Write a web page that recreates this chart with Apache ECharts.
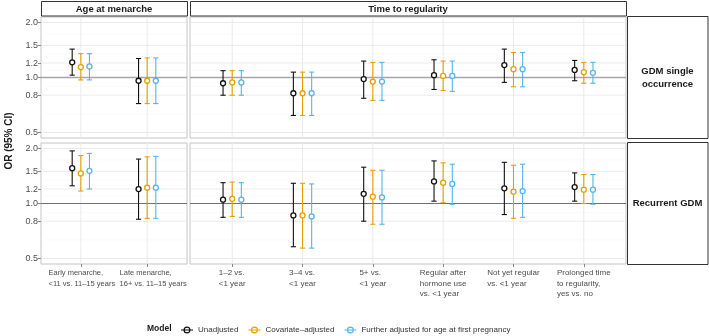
<!DOCTYPE html>
<html>
<head>
<meta charset="utf-8">
<script src="https://cdn.jsdelivr.net/npm/echarts@6/dist/echarts.min.js"></script>
<style>
  html, body { margin: 0; padding: 0; background: #fff; }
  #chart { width: 709px; height: 336px; }
</style>
</head>
<body>
<div id="chart"></div>
<script>
// categories per facet
const menarcheCats = ['Early menarche,\n<11 vs. 11–15 years', 'Late menarche,\n16+ vs. 11–15 years']
const regularityCats = [
  '1–2 vs.\n<1 year',
  '3–4 vs.\n<1 year',
  '5+ vs.\n<1 year',
  'Regular after\nhormone use\nvs. <1 year',
  'Not yet regular\nvs. <1 year',
  'Prolonged time\nto regularity,\nyes vs. no',
]
const facetTitles = ['Age at menarche', 'Time to regularity']
const rowTitles = ['GDM single\noccurrence', 'Recurrent GDM']
const modelNames = ['Unadjusted', 'Covariate–adjusted', 'Further adjusted for age at first pregnancy']
const modelColors = ['#111111', '#E69F00', '#56B4E9']
const yTicks = [0.5, 0.8, 1.0, 1.2, 1.5, 2.0]

// odds ratios: 2 menarche categories, then 6 regularity categories
const singleUnadjOR = [1.21, 0.96, 0.93, 0.82, 0.98, 1.03, 1.17, 1.10]
const singleUnadjLo = [1.03, 0.72, 0.80, 0.62, 0.77, 0.86, 0.94, 0.96]
const singleUnadjHi = [1.43, 1.27, 1.09, 1.07, 1.23, 1.25, 1.43, 1.24]
const singleCovOR = [1.14, 0.96, 0.94, 0.82, 0.95, 1.02, 1.11, 1.07]
const singleCovLo = [0.97, 0.72, 0.80, 0.62, 0.75, 0.85, 0.89, 0.93]
const singleCovHi = [1.35, 1.28, 1.09, 1.07, 1.21, 1.23, 1.37, 1.21]
const singleAgeOR = [1.15, 0.96, 0.94, 0.82, 0.95, 1.02, 1.11, 1.06]
const singleAgeLo = [0.97, 0.72, 0.80, 0.62, 0.75, 0.84, 0.89, 0.93]
const singleAgeHi = [1.35, 1.28, 1.09, 1.07, 1.21, 1.23, 1.37, 1.21]

const recUnadjOR = [1.56, 1.20, 1.05, 0.86, 1.13, 1.32, 1.21, 1.23]
const recUnadjLo = [1.25, 0.82, 0.84, 0.58, 0.80, 1.03, 0.87, 1.03]
const recUnadjHi = [1.94, 1.75, 1.30, 1.29, 1.58, 1.71, 1.68, 1.47]
const recCovOR = [1.46, 1.22, 1.06, 0.86, 1.09, 1.30, 1.16, 1.19]
const recCovLo = [1.17, 0.83, 0.85, 0.57, 0.77, 1.01, 0.83, 1.00]
const recCovHi = [1.83, 1.80, 1.31, 1.29, 1.52, 1.67, 1.62, 1.44]
const recAgeOR = [1.51, 1.22, 1.05, 0.85, 1.08, 1.28, 1.17, 1.19]
const recAgeLo = [1.20, 0.83, 0.84, 0.57, 0.77, 0.99, 0.84, 0.99]
const recAgeHi = [1.88, 1.81, 1.30, 1.28, 1.52, 1.64, 1.64, 1.44]

const rows = [
  [[singleUnadjOR, singleUnadjLo, singleUnadjHi], [singleCovOR, singleCovLo, singleCovHi], [singleAgeOR, singleAgeLo, singleAgeHi]],
  [[recUnadjOR, recUnadjLo, recUnadjHi], [recCovOR, recCovLo, recCovHi], [recAgeOR, recAgeLo, recAgeHi]],
]

const FONT = "'Liberation Sans', Arial, sans-serif"
const dodge = [-0.13, 0, 0.13]
const ln = Math.log
const yMin = ln(0.5) - 0.069
const yMax = ln(2) + 0.069
const minorTicks = yTicks.slice(1).map((t, i) => Math.sqrt(t * yTicks[i]))

const grids = [
  { left: 41, top: 17, width: 146, height: 121 },
  { left: 190, top: 17, width: 436, height: 121 },
  { left: 41, top: 143, width: 146, height: 121 },
  { left: 190, top: 143, width: 436, height: 121 },
]

const xAxis = []
const yAxis = []
const series = []

function labelFormatter(cats) {
  return (v) => cats[Math.round(v)].split('\n').map((s) => '{a|' + s + '}').join('\n')
}

function makeXAxis(gi, cats, values, show, size, padding) {
  return {
    type: 'value', gridIndex: gi, position: 'bottom', offset: 0,
    min: -0.6, max: cats.length - 0.4,
    axisLine: { show: false, onZero: false }, splitLine: { show: false },
    axisTick: { show, customValues: values, length: 3, lineStyle: { color: '#888' } },
    axisLabel: {
      show, customValues: values, margin: 4, padding: padding || 0,
      showMinLabel: true, showMaxLabel: true, hideOverlap: false,
      formatter: labelFormatter(cats),
      rich: { a: { align: 'left', fontSize: size, lineHeight: 10.5, color: '#4d4d4d', fontFamily: FONT } },
    },
  }
}

grids.forEach((g, gi) => {
  const row = gi < 2 ? 0 : 1
  const facet = gi % 2
  const cats = facet === 0 ? menarcheCats : regularityCats
  const idx = cats.map((_, i) => i)
  const bottom = row === 1
  const left = facet === 0
  const xIndex = xAxis.length

  if (bottom && facet === 0) {
    // one axis per label so the two wide labels are both kept
    xAxis.push(makeXAxis(gi, cats, [0], true, 7.5, [0, 0, 0, 2]))
    xAxis.push(makeXAxis(gi, cats, [1], true, 7.5, [0, 0, 0, 12]))
  } else {
    xAxis.push(makeXAxis(gi, cats, idx, bottom, 8))
  }
  yAxis.push({
    type: 'value', gridIndex: gi, position: 'left', min: yMin, max: yMax,
    axisLine: { show: false, onZero: false }, splitLine: { show: false },
    axisTick: { show: left, customValues: yTicks.map(ln), length: 3, lineStyle: { color: '#888' } },
    axisLabel: {
      show: left, customValues: yTicks.map(ln), margin: 3,
      showMinLabel: true, showMaxLabel: true,
      formatter: (v) => Math.exp(v).toFixed(1),
      fontSize: 9, color: '#4d4d4d', fontFamily: FONT,
    },
  })

  // grid lines + reference line at OR = 1, drawn as one group
  series.push({
    type: 'custom', xAxisIndex: xIndex, yAxisIndex: gi, z: 1, silent: true,
    data: [[0, 0]],
    renderItem: (params, api) => {
      const cs = params.coordSys
      const hLine = (v, style) => {
        const y = api.coord([0, v])[1]
        return { type: 'line', shape: { x1: cs.x, y1: y, x2: cs.x + cs.width, y2: y }, style }
      }
      const vLine = (v, style) => {
        const x = api.coord([v, 0])[0]
        return { type: 'line', shape: { x1: x, y1: cs.y, x2: x, y2: cs.y + cs.height }, style }
      }
      const children = []
      minorTicks.forEach((t) => children.push(hLine(ln(t), { stroke: '#f4f4f4', lineWidth: 0.5 })))
      yTicks.forEach((t) => children.push(hLine(ln(t), { stroke: '#e8e8e8', lineWidth: 0.9 })))
      idx.forEach((i) => children.push(vLine(i, { stroke: '#e8e8e8', lineWidth: 0.9 })))
      children.push(hLine(0, row === 0 ? { stroke: '#a6a6a6', lineWidth: 1.6 } : { stroke: '#707070', lineWidth: 1 }))
      return { type: 'group', children }
    },
  })

  // error bars for each model
  rows[row].forEach((m, mi) => {
    const [or, lo, hi] = m
    const start = facet === 0 ? 0 : 2
    const data = idx.map((i) => [i + dodge[mi], ln(lo[start + i]), ln(hi[start + i]), ln(or[start + i])])
    series.push({
      name: modelNames[mi], type: 'custom', xAxisIndex: xIndex, yAxisIndex: gi, z: 5,
      itemStyle: { color: modelColors[mi] },
      encode: { x: 0, y: [1, 2, 3] },
      data,
      renderItem: (params, api) => {
        const x = api.value(0)
        const pLo = api.coord([x, api.value(1)])
        const pHi = api.coord([x, api.value(2)])
        const pE = api.coord([x, api.value(3)])
        const color = api.visual('color')
        const cap = 2.6
        const ls = { stroke: color, lineWidth: 1.1 }
        return {
          type: 'group',
          children: [
            { type: 'line', shape: { x1: pLo[0], y1: pLo[1], x2: pHi[0], y2: pHi[1] }, style: ls },
            { type: 'line', shape: { x1: pLo[0] - cap, y1: pLo[1], x2: pLo[0] + cap, y2: pLo[1] }, style: ls },
            { type: 'line', shape: { x1: pHi[0] - cap, y1: pHi[1], x2: pHi[0] + cap, y2: pHi[1] }, style: ls },
            { type: 'circle', shape: { cx: pE[0], cy: pE[1], r: 2.5 }, style: { fill: '#fff', stroke: color, lineWidth: 1.3 } },
          ],
        }
      },
    })
  })
})

// strips, axis title, legend title
const stripStyle = { fill: '#fff', stroke: '#333', lineWidth: 1 }
const stripText = { fontSize: 9.5, fontWeight: 'bold', fill: '#1a1a1a', fontFamily: FONT, align: 'center', verticalAlign: 'middle' }
const graphic = [
  { type: 'rect', shape: { x: 41.5, y: 1.5, width: 146, height: 14.5 }, style: stripStyle },
  { type: 'text', x: 114, y: 9, style: { ...stripText, text: facetTitles[0] } },
  { type: 'rect', shape: { x: 190.5, y: 1.5, width: 436, height: 14.5 }, style: stripStyle },
  { type: 'text', x: 408, y: 9, style: { ...stripText, text: facetTitles[1] } },
  { type: 'rect', shape: { x: 627.5, y: 16.5, width: 80.5, height: 122 }, style: stripStyle },
  { type: 'text', x: 667.5, y: 77.5, style: { ...stripText, text: rowTitles[0], lineHeight: 13 } },
  { type: 'rect', shape: { x: 627.5, y: 142.5, width: 80.5, height: 122 }, style: stripStyle },
  { type: 'text', x: 667.5, y: 203.5, style: { ...stripText, text: rowTitles[1] } },
  {
    type: 'text', x: 9, y: 141, rotation: Math.PI / 2,
    style: { text: 'OR (95% CI)', fontSize: 10, fontWeight: 'bold', fill: '#1a1a1a', fontFamily: FONT, align: 'center', verticalAlign: 'middle' },
  },
  {
    type: 'text', x: 147, y: 328.5,
    style: { text: 'Model', fontSize: 8.5, fontWeight: 'bold', fill: '#1a1a1a', fontFamily: FONT, align: 'left', verticalAlign: 'middle' },
  },
]

const legendIcon = 'path://M0,3.5H12V4.5H0Z M6,0.5A3.5,3.5,0,1,1,5.99,0.5Z M6,1.7A2.3,2.3,0,1,0,6.01,1.7Z'

const chart = echarts.init(document.getElementById('chart'), null, { renderer: 'canvas' })
chart.setOption({
  animation: false,
  backgroundColor: '#fff',
  grid: grids.map((g) => ({ ...g, show: true, borderColor: '#c4c4c4', borderWidth: 1, backgroundColor: 'transparent' })),
  xAxis,
  yAxis,
  legend: {
    data: modelNames, left: 176, top: 321, icon: legendIcon,
    itemWidth: 12, itemHeight: 8, itemGap: 10,
    textStyle: { fontSize: 8, color: '#333', fontFamily: FONT },
    selectedMode: false,
  },
  graphic,
  series,
})
</script>
</body>
</html>
